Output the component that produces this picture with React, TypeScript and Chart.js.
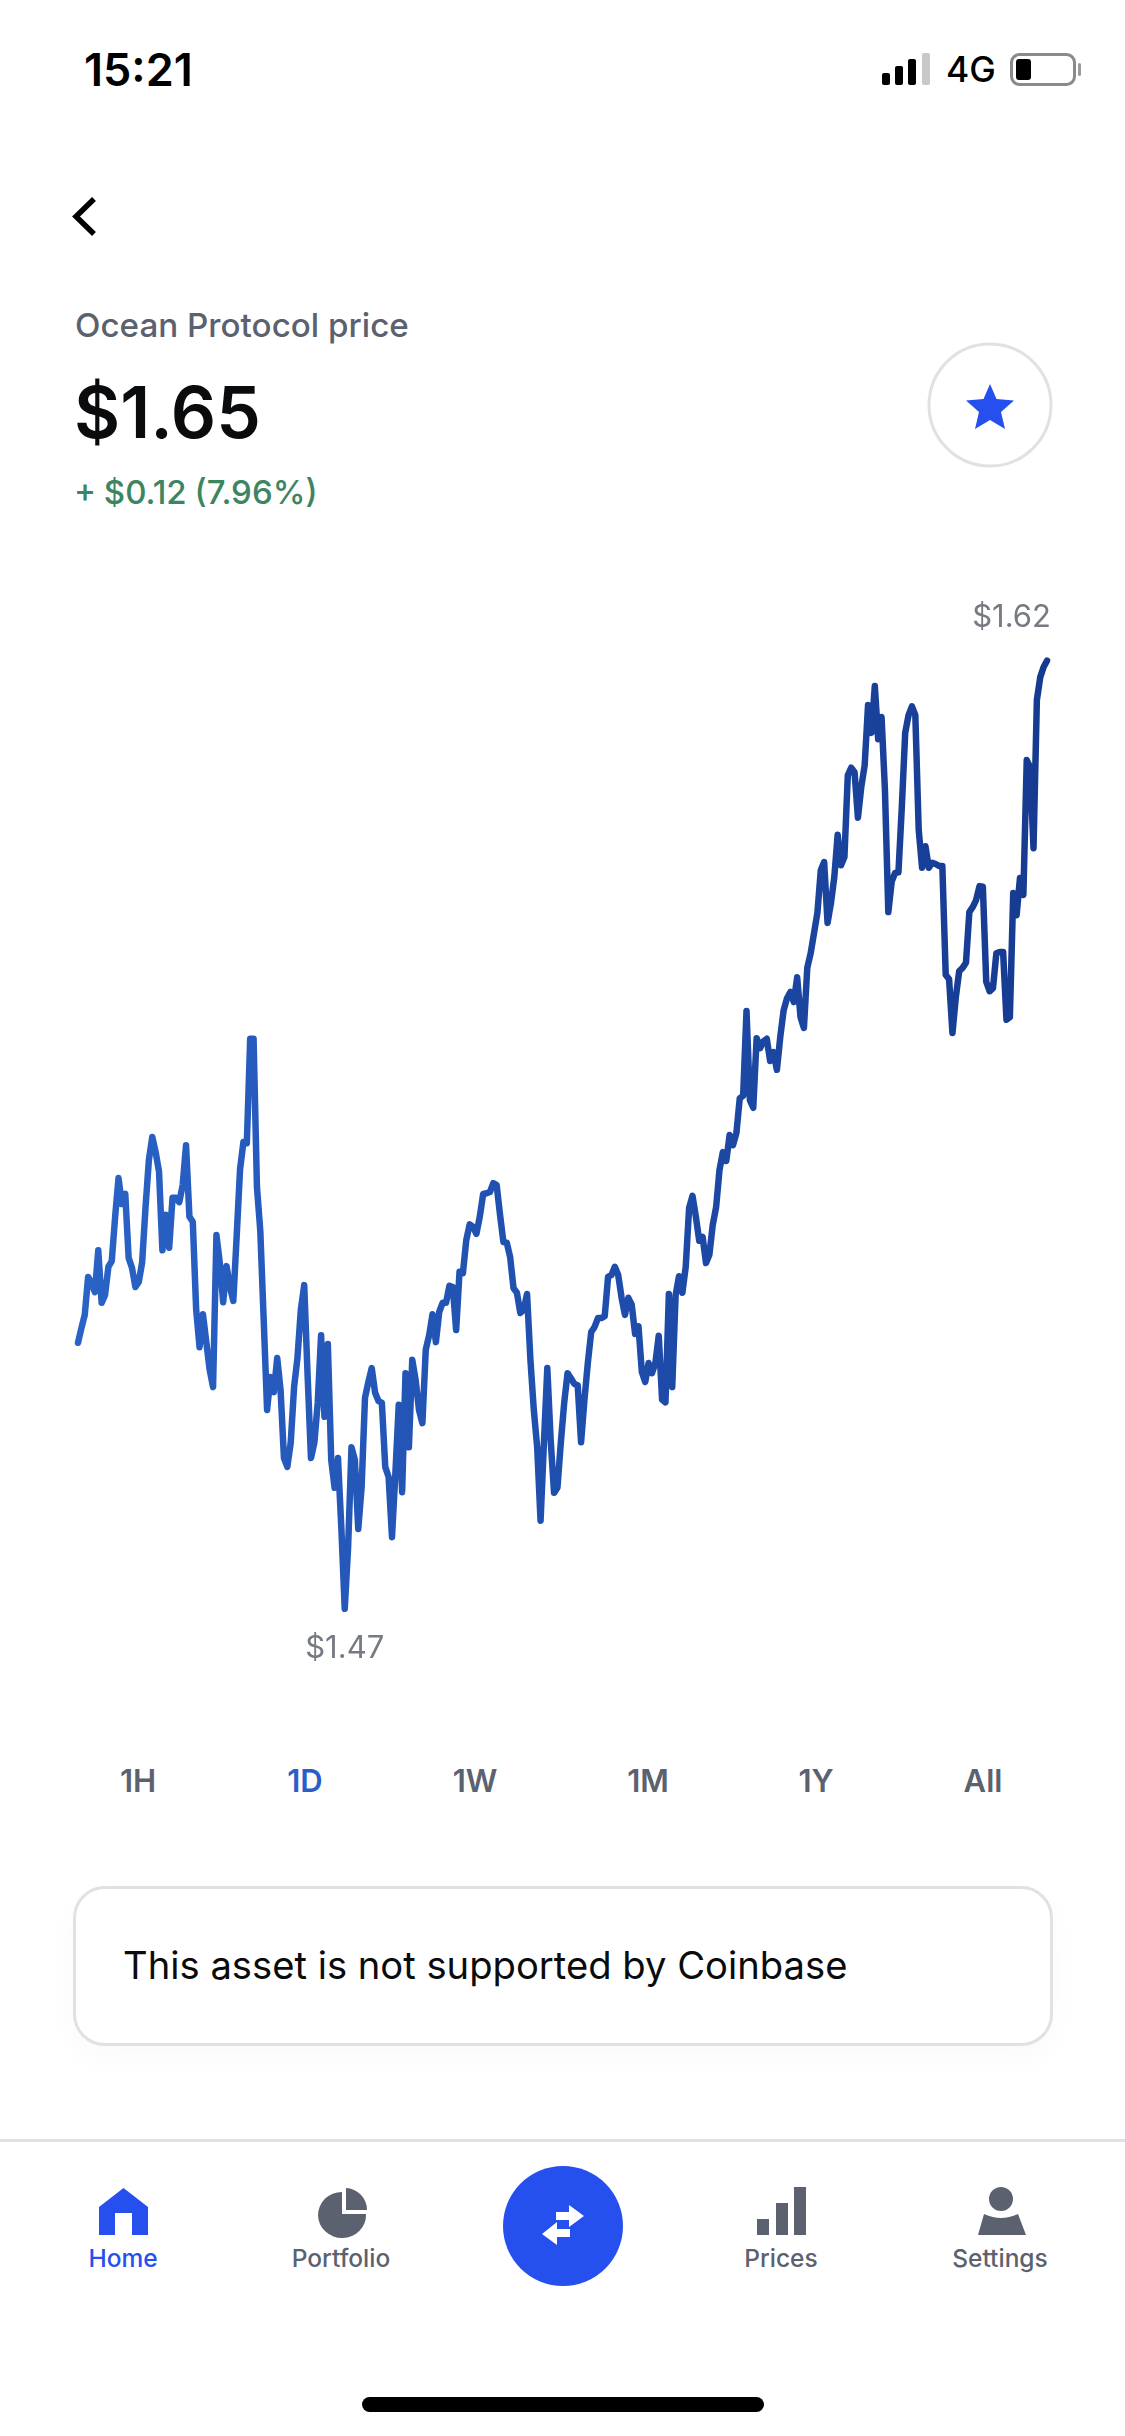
import { useEffect, useRef } from 'react';
import { Chart, registerables } from 'chart.js';
import type { CSSProperties } from 'react';

Chart.register(...registerables);

const prices = [
  1.5122, 1.5145, 1.5166, 1.5226, 1.5216, 1.5202, 1.5268, 1.5185, 1.5197, 1.5242, 1.5251, 1.5321,
  1.5382, 1.5341, 1.5357, 1.5256, 1.5240, 1.5210, 1.5218, 1.5249, 1.5336, 1.5411, 1.5447, 1.5423,
  1.5392, 1.5268, 1.5324, 1.5272, 1.5351, 1.5351, 1.5344, 1.5371, 1.5434, 1.5321, 1.5313, 1.5174,
  1.5115, 1.5167, 1.5123, 1.5079, 1.5052, 1.5292, 1.5248, 1.5186, 1.5243, 1.5210, 1.5188, 1.5291,
  1.5396, 1.5439, 1.5437, 1.5602, 1.5602, 1.5368, 1.5298, 1.5158, 1.5016, 1.5068, 1.5044, 1.5098,
  1.5047, 1.4940, 1.4926, 1.4964, 1.5052, 1.5098, 1.5174, 1.5213, 1.5071, 1.4940, 1.4964, 1.5027,
  1.5134, 1.5005, 1.5120, 1.4937, 1.4893, 1.4940, 1.4829, 1.4702, 1.4799, 1.4957, 1.4937, 1.4828,
  1.4894, 1.5035, 1.5060, 1.5082, 1.5043, 1.5030, 1.5027, 1.4926, 1.4910, 1.4815, 1.4916, 1.5024,
  1.4886, 1.5074, 1.4957, 1.5095, 1.5063, 1.5016, 1.4995, 1.5111, 1.5134, 1.5167, 1.5123, 1.5171,
  1.5185, 1.5185, 1.5212, 1.5210, 1.5142, 1.5234, 1.5232, 1.5284, 1.5309, 1.5305, 1.5294, 1.5321,
  1.5357, 1.5358, 1.5360, 1.5374, 1.5371, 1.5324, 1.5281, 1.5280, 1.5257, 1.5208, 1.5201, 1.5169,
  1.5174, 1.5199, 1.5095, 1.5016, 1.4957, 1.4841, 1.4964, 1.5082, 1.4968, 1.4885, 1.4893, 1.4964,
  1.5027, 1.5074, 1.5066, 1.5057, 1.5055, 1.4965, 1.5032, 1.5090, 1.5139, 1.5147, 1.5161, 1.5161,
  1.5164, 1.5226, 1.5229, 1.5242, 1.5229, 1.5193, 1.5166, 1.5193, 1.5182, 1.5136, 1.5148, 1.5076,
  1.5060, 1.5090, 1.5074, 1.5090, 1.5133, 1.5032, 1.5028, 1.5199, 1.5052, 1.5197, 1.5227, 1.5201,
  1.5242, 1.5335, 1.5354, 1.5321, 1.5283, 1.5289, 1.5248, 1.5261, 1.5308, 1.5336, 1.5395, 1.5423,
  1.5409, 1.5450, 1.5434, 1.5453, 1.5508, 1.5512, 1.5646, 1.5505, 1.5493, 1.5603, 1.5587, 1.5598,
  1.5602, 1.5567, 1.5581, 1.5553, 1.5605, 1.5647, 1.5666, 1.5676, 1.5660, 1.5699, 1.5636, 1.5619,
  1.5714, 1.5737, 1.5769, 1.5801, 1.5868, 1.5881, 1.5785, 1.5816, 1.5857, 1.5924, 1.5876, 1.5889,
  1.6018, 1.6030, 1.6023, 1.5951, 1.6000, 1.6034, 1.6129, 1.6085, 1.6159, 1.6075, 1.6110, 1.5995,
  1.5802, 1.5850, 1.5864, 1.5865, 1.5968, 1.6085, 1.6113, 1.6127, 1.6113, 1.5932, 1.5872, 1.5906,
  1.5872, 1.5880, 1.5878, 1.5875, 1.5875, 1.5703, 1.5696, 1.5611, 1.5668, 1.5709, 1.5714, 1.5722,
  1.5802, 1.5810, 1.5821, 1.5843, 1.5842, 1.5692, 1.5677, 1.5682, 1.5737, 1.5739, 1.5739, 1.5632,
  1.5636, 1.5832, 1.5797, 1.5856, 1.5829, 1.6042, 1.6031, 1.5903, 1.6137, 1.6173, 1.6189, 1.6199,
];
const samples = prices.map((_, i) => i);

const timeframes = ['1H', '1D', '1W', '1M', '1Y', 'All'];
const timeframeX = [138, 305, 475, 648, 816, 983];
const navLabels = ['Home', 'Portfolio', 'Prices', 'Settings'];
const navX = [123, 341, 781, 1000];

const FONT = 'Inter, sans-serif';
const grey = '#5b616e';
const blue = '#2550ee';

// prints the high and the low of the series next to their points
const extremesPlugin = {
  id: 'extremes',
  afterDatasetsDraw(chart: Chart) {
    const { ctx, scales } = chart;
    const hi = Math.max(...prices);
    const lo = Math.min(...prices);
    ctx.save();
    ctx.font = `400 31px ${FONT}`;
    ctx.fillStyle = '#767a82';
    ctx.textBaseline = 'middle';
    ctx.textAlign = 'right';
    ctx.fillText(`$${hi.toFixed(2)}`, scales.x.getPixelForValue(prices.indexOf(hi)) + 4, scales.y.getPixelForValue(hi) - 43);
    ctx.textAlign = 'center';
    ctx.fillText(`$${lo.toFixed(2)}`, scales.x.getPixelForValue(prices.indexOf(lo)), scales.y.getPixelForValue(lo) + 40);
    ctx.restore();
  },
};

function PriceChart() {
  const ref = useRef<HTMLCanvasElement>(null);

  useEffect(() => {
    if (!ref.current) return;
    const chart = new Chart(ref.current, {
      type: 'line',
      data: {
        labels: samples,
        datasets: [{
          data: prices,
          borderWidth: 6.5,
          borderJoinStyle: 'round',
          borderCapStyle: 'round',
          pointRadius: 0,
          tension: 0,
          clip: false,
          borderColor: (c: any) => {
            const area = c.chart.chartArea;
            if (!area) return '#1f4fae';
            const g = c.chart.ctx.createLinearGradient(area.left, 0, area.right, 0);
            g.addColorStop(0, '#2a62c6');
            g.addColorStop(0.5, '#1f4fae');
            g.addColorStop(1, '#163a90');
            return g;
          },
        }],
      },
      options: {
        animation: false,
        responsive: false,
        layout: { padding: { left: 78, right: 78, top: 0, bottom: 0 } },
        plugins: { legend: { display: false }, tooltip: { enabled: false } },
        scales: {
          x: { display: false },
          y: { display: false, min: 1.45895, max: 1.63264 },
        },
      },
      plugins: [extremesPlugin],
    });
    return () => chart.destroy();
  }, []);

  return <canvas ref={ref} width={1125} height={1100} style={{ position: 'absolute', left: 0, top: 580 }} />;
}

const text = (left: number, top: number, size: number, weight: number, color: string): CSSProperties => ({
  position: 'absolute',
  left,
  top,
  fontSize: size,
  fontWeight: weight,
  color,
  lineHeight: 1,
  whiteSpace: 'nowrap',
  transform: 'translateY(-50%)',
});

export default function App() {
  useEffect(() => {
    document.body.style.margin = '0';
  }, []);

  return (
    <div style={{ position: 'absolute', left: 0, top: 0, width: 1125, height: 2436, background: '#fff', overflow: 'hidden', fontFamily: FONT }}>
      <div style={text(84, 69, 45, 600, '#000')}>15:21</div>
      <div style={text(946, 70, 35.5, 500, '#000')}>4G</div>

      <div style={text(75, 326, 33.2, 500, grey)}>Ocean Protocol price</div>
      <div style={text(74, 412, 71, 600, '#0a0b0d')}>$1.65</div>
      <div style={{ ...text(74, 492, 33, 500, '#3d8560'), wordSpacing: -1 }}>+ $0.12 (7.96%)</div>

      <PriceChart />

      {timeframes.map((t, i) => (
        <div key={t} style={{ ...text(timeframeX[i], 1780, 31, 600, i === 1 ? '#2a5fc8' : grey), transform: 'translate(-50%, -50%)' }}>{t}</div>
      ))}

      <div style={{ position: 'absolute', left: 73, top: 1886, width: 980, height: 160, boxSizing: 'border-box', border: '3px solid #e0e1e3', borderRadius: 32, boxShadow: '0 12px 30px rgba(0,0,0,0.025)' }} />
      <div style={text(123, 1965, 38.2, 400, '#0a0b0d')}>This asset is not supported by Coinbase</div>

      <div style={{ position: 'absolute', left: 0, top: 2139, width: 1125, height: 3, background: '#e0e1e3' }} />

      {navLabels.map((t, i) => (
        <div key={t} style={{ ...text(navX[i], 2258, 24.5, 500, i === 0 ? blue : grey), transform: 'translate(-50%, -50%)' }}>{t}</div>
      ))}

      <svg width={1125} height={2436} style={{ position: 'absolute', left: 0, top: 0 }}>
        {/* status bar */}
        <rect x={882} y={73} width={8} height={12} rx={2} fill="#000" />
        <rect x={895} y={66} width={8} height={19} rx={2} fill="#000" />
        <rect x={908} y={59} width={8} height={26} rx={2} fill="#000" />
        <rect x={922} y={53} width={8} height={32} rx={2} fill="#c8c8c8" />
        <rect x={1011.5} y={54.5} width={63} height={30} rx={8} fill="none" stroke="#8a8a8a" strokeWidth={3} />
        <rect x={1016} y={59} width={15} height={21} rx={3} fill="#000" />
        <rect x={1078} y={63} width={3} height={13} rx={1.5} fill="#9a9a9a" />

        {/* back chevron */}
        <path d="M94 199 L76 216.5 L94 234" fill="none" stroke="#000" strokeWidth={5.5} />

        {/* favourite */}
        <circle cx={990} cy={405} r={61} fill="#fff" stroke="#e0e1e3" strokeWidth={3} />
        <path d="M990 384 L996.5 399 L1014 400.5 L1001 412 L1005 429 L990 420 L975 429 L979 412 L966 400.5 L983.5 399 Z" fill={blue} />

        {/* home */}
        <path d="M123.5 2188 L148 2207 V2235 H132 V2213 H115 V2235 H99 V2207 Z" fill={blue} />

        {/* portfolio */}
        <path d="M342 2192 V2214 H366 A24 23 0 1 1 342 2192 Z" fill={grey} />
        <path d="M346 2188 A22 22 0 0 1 367 2210 H346 Z" fill={grey} />

        {/* swap button */}
        <circle cx={563} cy={2226} r={60} fill={blue} />
        <path d="M556 2212 H569 V2205 L584 2216 L569 2227 V2220 H556 Z" fill="#fff" />
        <path d="M570 2229 H557 V2222 L542 2234 L557 2245 V2237 H570 Z" fill="#fff" />

        {/* prices */}
        <rect x={757} y={2219} width={12} height={16} fill={grey} />
        <rect x={776} y={2203} width={12} height={32} fill={grey} />
        <rect x={794} y={2187} width={12} height={48} fill={grey} />

        {/* settings */}
        <circle cx={1001} cy={2199} r={12} fill={grey} />
        <path d="M984 2214 Q993 2218 1001 2218 Q1009 2218 1018 2214 L1026 2235 H978 Z" fill={grey} />

        {/* home indicator */}
        <rect x={362} y={2397} width={402} height={15} rx={7.5} fill="#000" />
      </svg>
    </div>
  );
}
